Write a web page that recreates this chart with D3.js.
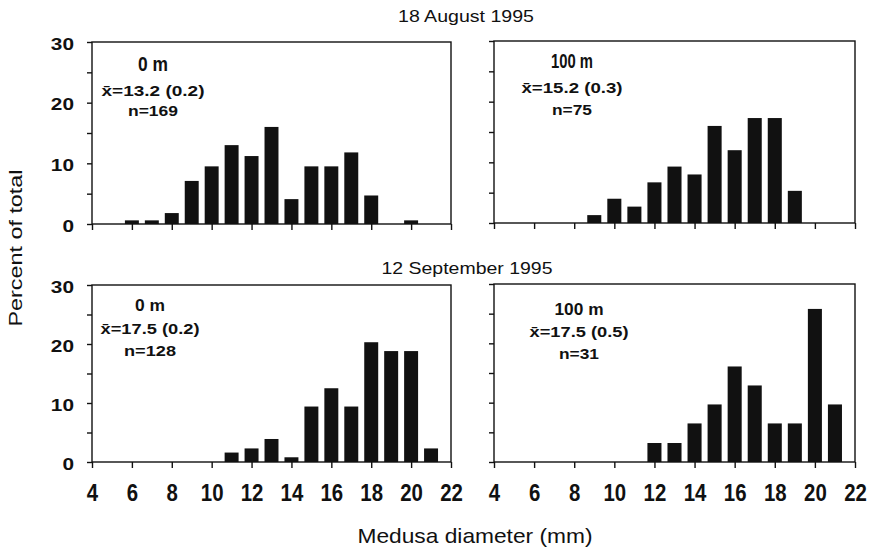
<!DOCTYPE html>
<html>
<head>
<meta charset="utf-8">
<script src="https://cdn.jsdelivr.net/npm/d3@7"></script>
<style>
  body { margin: 0; background: #fff; }
  svg { display: block; font-family: "Liberation Sans", Arial, sans-serif; }
</style>
</head>
<body>
<svg width="873" height="549"></svg>
<script>
// medusa diameter classes (mm)
const sizes = [5, 6, 7, 8, 9, 10, 11, 12, 13, 14, 15, 16, 17, 18, 19, 20, 21]
// percent of total
const aug0m   = [0, 0.6, 0.6, 1.8, 7.1, 9.5, 13.0, 11.2, 16.0, 4.1, 9.5, 9.5, 11.8, 4.7, 0, 0.6, 0]
const aug100m = [0, 0, 0, 0, 1.3, 4.0, 2.7, 6.7, 9.3, 8.0, 16.0, 12.0, 17.3, 17.3, 5.3, 0, 0]
const sep0m   = [0, 0, 0, 0, 0, 0, 1.6, 2.3, 3.9, 0.8, 9.4, 12.5, 9.4, 20.3, 18.8, 18.8, 2.3]
const sep100m = [0, 0, 0, 0, 0, 0, 0, 3.2, 3.2, 6.5, 9.7, 16.1, 12.9, 6.5, 6.5, 25.8, 9.7]

const dates = ['18 August 1995', '12 September 1995']
const depths = ['0 m', '100 m', '0 m', '100 m']
const means = ['13.2 (0.2)', '15.2 (0.3)', '17.5 (0.2)', '17.5 (0.5)']
const counts = [169, 75, 128, 31]
const xTicks = [4, 6, 8, 10, 12, 14, 16, 18, 20, 22]
const yTicks = [0, 5, 10, 15, 20, 25, 30]

const svg = d3.select('svg')
const ink = '#111'

const series = [aug0m, aug100m, sep0m, sep100m]
// panel boxes in px
const boxes = [
    { left: 92, right: 451, top: 42, bottom: 224 },
    { left: 494, right: 855, top: 41, bottom: 223 },
    { left: 92, right: 451, top: 285, bottom: 462 },
    { left: 494, right: 855, top: 284, bottom: 462 },
]
// annotation placement: centre x, baselines, text widths
const notes = [
    { cx: 153, y: [71, 96, 116], w: [30, 103, 50], narrow: true },
    { cx: 572, y: [68, 93, 115], w: [42, 101, 40], narrow: true },
    { cx: 150, y: [311, 334, 356], w: [30, 99, 52], narrow: false },
    { cx: 579, y: [315, 337, 359], w: [49, 99, 40], narrow: false },
]

series.forEach((values, i) => {
    const b = boxes[i]
    const x = d3.scaleLinear().domain([4, 22]).range([b.left, b.right])
    const y = d3.scaleLinear().domain([0, 30]).range([b.bottom, b.top])
    const bw = (x(1) - x(0)) * 0.7
    const g = svg.append('g').attr('class', 'panel')

    g.selectAll('rect.bar')
        .data(sizes.map((s, k) => ({ size: s, value: values[k] })).filter((d) => d.value > 0))
        .join('rect')
        .attr('class', 'bar')
        .attr('x', (d) => x(d.size) - bw / 2)
        .attr('width', bw)
        .attr('y', (d) => y(d.value))
        .attr('height', (d) => y(0) - y(d.value))
        .attr('fill', ink)

    // frame
    g.append('rect')
        .attr('x', b.left)
        .attr('y', b.top)
        .attr('width', b.right - b.left)
        .attr('height', b.bottom - b.top)
        .attr('fill', 'none')
        .attr('stroke', ink)
        .attr('stroke-width', 1.4)

    const bottomRow = i >= 2
    const leftCol = i % 2 === 0

    const xAxis = g.append('g')
        .attr('transform', `translate(0, ${b.bottom})`)
        .call(d3.axisBottom(x).tickValues(xTicks).tickSize(6).tickSizeOuter(0)
            .tickFormat(bottomRow ? d3.format('d') : () => ''))
    xAxis.select('.domain').remove()
    xAxis.selectAll('.tick line').attr('stroke', ink).attr('stroke-width', 1.4)
    xAxis.selectAll('.tick text')
        .attr('y', 0)
        .attr('dy', 0)
        .attr('fill', ink)
        .attr('font-size', 24)
        .attr('font-weight', 'bold')
        .attr('transform', 'translate(0, 39) scale(0.85, 1)')

    const yAxis = g.append('g')
        .attr('transform', `translate(${b.left}, 0)`)
        .call(d3.axisLeft(y).tickValues(yTicks).tickSize(5).tickSizeOuter(0)
            .tickFormat((d) => (leftCol && d % 10 === 0 ? d : '')))
    yAxis.select('.domain').remove()
    yAxis.selectAll('.tick line').attr('stroke', ink).attr('stroke-width', 1.4)
    yAxis.selectAll('.tick text')
        .attr('x', 0)
        .attr('dy', '0.45em')
        .attr('fill', ink)
        .attr('font-size', 16)
        .attr('font-weight', 'bold')
        .attr('transform', 'translate(-18, 0) scale(1.3, 1)')

    // depth / mean / n
    const n = notes[i]
    const ann = g.append('g').attr('fill', ink).attr('font-weight', 'bold').attr('text-anchor', 'middle')
    ann.append('text')
        .attr('x', n.cx)
        .attr('y', n.y[0])
        .attr('font-size', n.narrow ? 20 : 16)
        .attr('textLength', n.w[0])
        .attr('lengthAdjust', 'spacingAndGlyphs')
        .text(depths[i])
    ann.append('text')
        .attr('x', n.cx)
        .attr('y', n.y[1])
        .attr('font-size', 15)
        .attr('textLength', n.w[1])
        .attr('lengthAdjust', 'spacingAndGlyphs')
        .text('x\u0304=' + means[i])
    ann.append('text')
        .attr('x', n.cx)
        .attr('y', n.y[2])
        .attr('font-size', 15)
        .attr('textLength', n.w[2])
        .attr('lengthAdjust', 'spacingAndGlyphs')
        .text('n=' + counts[i])
})

// date titles above each row
svg.selectAll('text.date')
    .data(dates)
    .join('text')
    .attr('class', 'date')
    .attr('x', (d, i) => (i === 0 ? 466 : 467))
    .attr('y', (d, i) => (i === 0 ? 22 : 274))
    .attr('text-anchor', 'middle')
    .attr('font-size', 17)
    .attr('fill', ink)
    .attr('textLength', (d, i) => (i === 0 ? 136 : 171))
    .attr('lengthAdjust', 'spacingAndGlyphs')
    .text((d) => d)

svg.append('text')
    .attr('x', 475)
    .attr('y', 543)
    .attr('text-anchor', 'middle')
    .attr('font-size', 21)
    .attr('fill', ink)
    .attr('textLength', 235)
    .attr('lengthAdjust', 'spacingAndGlyphs')
    .text('Medusa diameter (mm)')

svg.append('text')
    .attr('transform', 'translate(22, 248) rotate(-90)')
    .attr('text-anchor', 'middle')
    .attr('font-size', 19)
    .attr('fill', ink)
    .attr('textLength', 157)
    .attr('lengthAdjust', 'spacingAndGlyphs')
    .text('Percent of total')
</script>
</body>
</html>
